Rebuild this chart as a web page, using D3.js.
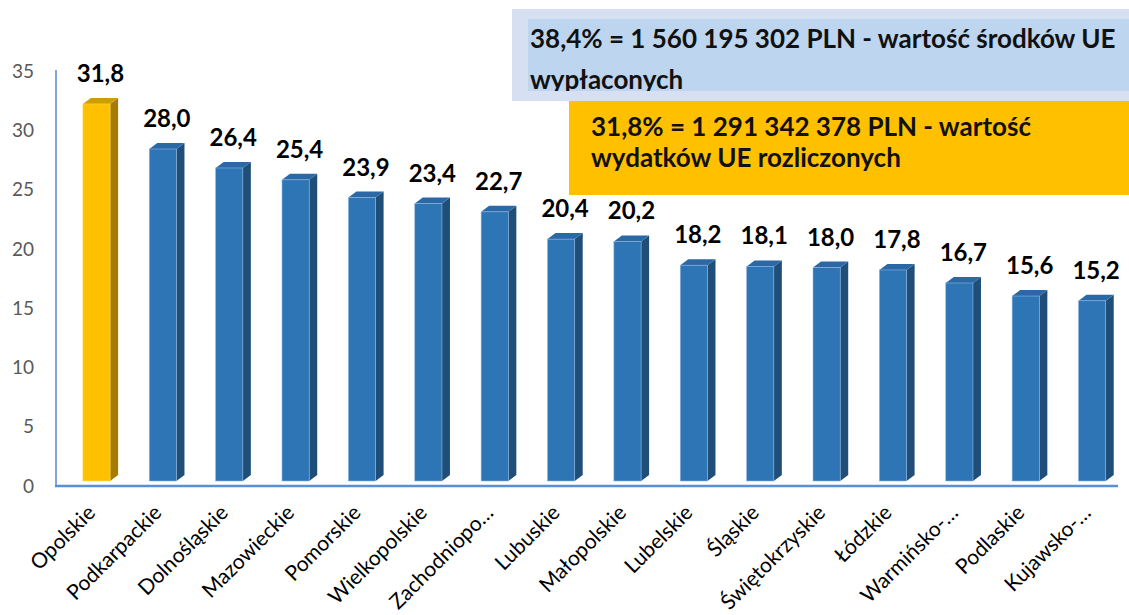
<!DOCTYPE html>
<html>
<head>
<meta charset="utf-8">
<script src="https://cdn.jsdelivr.net/npm/d3@7"></script>
<style>
  body { margin: 0; background: #fff; }
  svg { font-family: Lato, "Open Sans", sans-serif; }
</style>
</head>
<body>
<div class="svg-container"></div>
<script>
// województwa i wartości (%)
var categories = ['Opolskie', 'Podkarpackie', 'Dolnośląskie', 'Mazowieckie', 'Pomorskie',
  'Wielkopolskie', 'Zachodniopo…', 'Lubuskie', 'Małopolskie', 'Lubelskie', 'Śląskie',
  'Świętokrzyskie', 'Łódzkie', 'Warmińsko-…', 'Podlaskie', 'Kujawsko-…'];
var values = [31.8, 28.0, 26.4, 25.4, 23.9, 23.4, 22.7, 20.4, 20.2, 18.2, 18.1, 18.0, 17.8, 16.7, 15.6, 15.2];
var yTicks = [0, 5, 10, 15, 20, 25, 30, 35];

var blueNote = ['38,4% = 1 560 195 302 PLN - wartość środków UE', 'wypłaconych'];
var orangeNote = ['31,8% = 1 291 342 378 PLN - wartość', 'wydatków UE rozliczonych'];

var width = 1129, height = 615;
var depthX = 8, depthY = 6;

var svg = d3.select('.svg-container').append('svg')
    .attr('width', width)
    .attr('height', height);

var x = d3.scaleBand().domain(categories).range([56, 1118]);
var y = d3.scaleLinear().domain([0, 35]).range([481, 66]);
var frontW = x.step() * 0.41;
var offs = x.step() * 0.405;

// y axis labels
svg.append('g').selectAll('text')
    .data(yTicks)
    .enter().append('text')
    .attr('x', 34)
    .attr('y', function(d){ return y(d) + 5; })
    .attr('dy', '0.35em')
    .attr('text-anchor', 'end')
    .attr('font-size', 19)
    .attr('fill', '#595959')
    .text(function(d){ return d; });

// axis lines
svg.append('line')
    .attr('x1', 56).attr('x2', 56).attr('y1', 70).attr('y2', 486)
    .attr('stroke', '#7ea6dc').attr('stroke-width', 2);
svg.append('line')
    .attr('x1', 55).attr('x2', 1118).attr('y1', 486).attr('y2', 486)
    .attr('stroke', '#5b8fd3').attr('stroke-width', 2.5);

// bars (front, side, top)
var bars = svg.append('g').selectAll('g')
    .data(categories.map(function(c, i){ return {name: c, value: values[i], i: i}; }))
    .enter().append('g');

function col(d, k) {
  var blue = ['#2e75b6', '#1f4e79', '#2b68a6'];
  var gold = ['#ffc000', '#a67c00', '#d09d00'];
  return (d.i === 0 ? gold : blue)[k];
}

bars.append('path')
    .attr('d', function(d){
      var x0 = x(d.name) + offs + frontW, yt = y(d.value), yb = y(0);
      return 'M' + x0 + ',' + yt + 'L' + (x0 + depthX) + ',' + (yt - depthY) +
        'L' + (x0 + depthX) + ',' + (yb - depthY) + 'L' + x0 + ',' + yb + 'Z';
    })
    .attr('fill', function(d){ return col(d, 1); });

bars.append('path')
    .attr('d', function(d){
      var x0 = x(d.name) + offs, yt = y(d.value);
      return 'M' + x0 + ',' + yt + 'L' + (x0 + depthX) + ',' + (yt - depthY) +
        'L' + (x0 + frontW + depthX) + ',' + (yt - depthY) + 'L' + (x0 + frontW) + ',' + yt + 'Z';
    })
    .attr('fill', function(d){ return col(d, 2); });

bars.append('rect')
    .attr('x', function(d){ return x(d.name) + offs; })
    .attr('y', function(d){ return y(d.value); })
    .attr('width', frontW)
    .attr('height', function(d){ return y(0) - y(d.value); })
    .attr('fill', function(d){ return col(d, 0); })
    .attr('stroke', function(d){ return d.i === 0 ? '#ffd966' : '#8fb4de'; })
    .attr('stroke-width', 0.6);

// value labels
bars.append('text')
    .attr('x', function(d){ return x(d.name) + offs + (frontW + depthX) / 2; })
    .attr('y', function(d){ return y(d.value) - 22; })
    .attr('text-anchor', 'middle')
    .attr('font-size', 24)
    .attr('font-weight', 'bold')
    .attr('fill', '#000')
    .text(function(d){ return d3.format('.1f')(d.value).replace('.', ','); });

// category labels
bars.append('text')
    .attr('transform', function(d){
      return 'translate(' + (x(d.name) + offs + frontW / 2) + ',' + 514 + ') rotate(-45)';
    })
    .attr('text-anchor', 'end')
    .attr('font-size', 21)
    .attr('fill', '#000')
    .text(function(d){ return d.name; });

// annotation boxes
var note = svg.append('g');
note.append('rect').attr('x', 512).attr('y', 9).attr('width', 620).attr('height', 92).attr('fill', '#d6e0f2');
note.append('rect').attr('x', 528).attr('y', 19).attr('width', 604).attr('height', 72).attr('fill', '#bdd5ee');
note.append('clipPath').attr('id', 'clipBlue')
    .append('rect').attr('x', 528).attr('y', 19).attr('width', 604).attr('height', 72);
note.append('g').attr('clip-path', 'url(#clipBlue)')
    .selectAll('text').data(blueNote).enter().append('text')
    .attr('x', 530)
    .attr('y', function(d, i){ return 48 + i * 41; })
    .attr('font-size', 26)
    .attr('font-weight', 'bold')
    .attr('fill', '#111')
    .text(function(d){ return d; });

note.append('rect').attr('x', 569).attr('y', 101).attr('width', 563).attr('height', 94).attr('fill', '#ffc000');
note.selectAll('text.o').data(orangeNote).enter().append('text')
    .attr('class', 'o')
    .attr('x', 591)
    .attr('y', function(d, i){ return 136 + i * 31; })
    .attr('font-size', 26)
    .attr('font-weight', 'bold')
    .attr('fill', '#111')
    .text(function(d){ return d; });
</script>
</body>
</html>
